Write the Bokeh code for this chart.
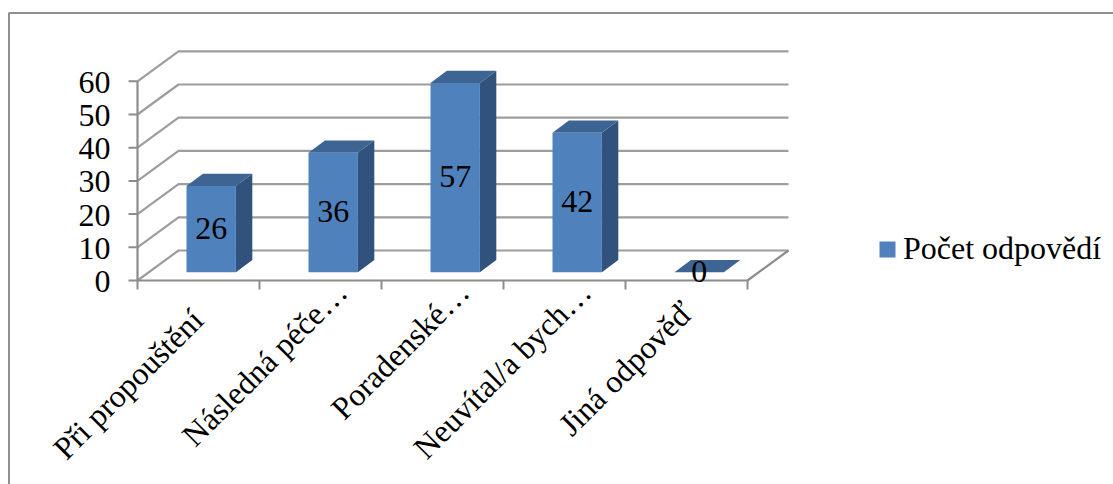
from bokeh.plotting import figure
from bokeh.models import Legend, LegendItem
from bokeh.core.properties import value
from bokeh.embed import file_html
from bokeh.resources import INLINE

categories = ["Při propouštění", "Následná péče…", "Poradenské…", "Neuvítal/a bych…", "Jiná odpověď"]
counts = [26, 36, 57, 42, 0]
y_ticks = [0, 10, 20, 30, 40, 50, 60]
series_name = "Počet odpovědí"

WIDTH, HEIGHT = 1113, 484
GRID = "#8c8c8c"
FONT = value("Liberation Serif")

# Pixels per data unit, and where the chart's origin sits on the page.
PX_X, PX_Y = 122.0, 3.32
X0, Y0 = 137.0, 280.0

# Oblique projection: depth of the walls and of each bar, in data units.
WALL_DX, WALL_DY = 41 / PX_X, 30 / PX_Y
BAR_DX, BAR_DY = 16.4 / PX_X, 12.2 / PX_Y
BAR_LEFT, BAR_W = 49 / PX_X, 49.4 / PX_X
FLOOR_DY = 8.3 / PX_Y

p = figure(
    width=WIDTH, height=HEIGHT, output_backend="svg", toolbar_location=None,
    x_range=(-X0 / PX_X, (WIDTH - X0) / PX_X),
    y_range=((Y0 - HEIGHT) / PX_Y, Y0 / PX_Y),
    min_border=0, outline_line_color=None, background_fill_color="white",
)
p.axis.visible = False
p.grid.visible = False

# Outer frame of the chart area: left and top edges only, the others run off the page.
frame_left, frame_top = (8.5 - X0) / PX_X, (Y0 - 12.5) / PX_Y
p.line(
    [frame_left, frame_left, (WIDTH - X0) / PX_X],
    [(Y0 - HEIGHT) / PX_Y, frame_top, frame_top],
    line_color="#8f8f8f", line_width=2,
)

n = len(categories)

# Back wall and side wall gridlines.
gx, gy = [], []
for v in y_ticks:
    gx.append([0, WALL_DX, n + WALL_DX])
    gy.append([v, v + WALL_DY, v + WALL_DY])
p.multi_line(gx, gy, line_color=GRID, line_width=2.2, line_alpha=0.85)

# Floor edges, axis lines and tick marks.
TICK_X, TICK_Y = 9 / PX_X, 9 / PX_Y
p.multi_line(
    [[0, n], [n, n + WALL_DX], [0, 0]],
    [[0, 0], [0, WALL_DY], [0, y_ticks[-1]]],
    line_color=GRID, line_width=2.2,
)
p.segment([-TICK_X] * len(y_ticks), y_ticks, [0] * len(y_ticks), y_ticks, line_color=GRID, line_width=2)
p.segment(list(range(n + 1)), [0] * (n + 1), list(range(n + 1)), [-TICK_Y] * (n + 1), line_color=GRID, line_width=2)

# Bars: front face, then the darker side and top faces.
lefts = [i + BAR_LEFT for i in range(n)]
rights = [x + BAR_W for x in lefts]
base = FLOOR_DY
tops = [base + c for c in counts]

side_x = [[r, r + BAR_DX, r + BAR_DX, r] for r in rights]
side_y = [[base, base + BAR_DY, t + BAR_DY, t] for t in tops]
top_x = [[l, l + BAR_DX, r + BAR_DX, r] for l, r in zip(lefts, rights)]
top_y = [[t, t + BAR_DY, t + BAR_DY, t] for t in tops]

p.patches(side_x, side_y, fill_color="#31527C", line_color=None)
p.patches(top_x, top_y, fill_color="#3E6493", line_color=None)
front = p.quad(left=lefts, right=rights, bottom=[base] * n, top=tops, fill_color="#4F81BD", line_color=None)

# Value labels centred on each front face.
p.text(
    [(l + r) / 2 for l, r in zip(lefts, rights)],
    [base + c / 2 for c in counts],
    text=[str(c) for c in counts],
    text_font=FONT, text_font_size="32px", text_color="black",
    text_align="center", text_baseline="middle", y_offset=-1,
)

# Value axis labels.
p.text(
    [-27 / PX_X] * len(y_ticks), y_ticks, text=[str(v) for v in y_ticks],
    text_font=FONT, text_font_size="32px", text_color="black",
    text_align="right", text_baseline="middle", y_offset=1,
)

# Slanted category labels, right-aligned under each category; the shortened
# labels reach further along the slant than the complete ones.
label_dx = [-1, 21, 21, 21, 1]
label_dy = [25, -3, -3, -3, 17]
p.text(
    [i + 0.5 for i in range(n)], [-TICK_Y] * n, text=categories,
    x_offset=label_dx, y_offset=label_dy,
    angle=0.7854, text_font=FONT, text_font_size="32px", text_color="black",
    text_align="right", text_baseline="middle",
)

legend = Legend(
    items=[LegendItem(label=series_name, renderers=[front])],
    location=(877, 217), orientation="vertical",
    border_line_color=None, background_fill_alpha=0,
    label_text_font="Liberation Serif", label_text_font_size="32px", label_text_color="black",
    glyph_width=20, glyph_height=20, padding=0, margin=0, spacing=0, label_standoff=6,
)
p.add_layout(legend, "center")

open("out.html", "w").write(file_html(p, INLINE))
